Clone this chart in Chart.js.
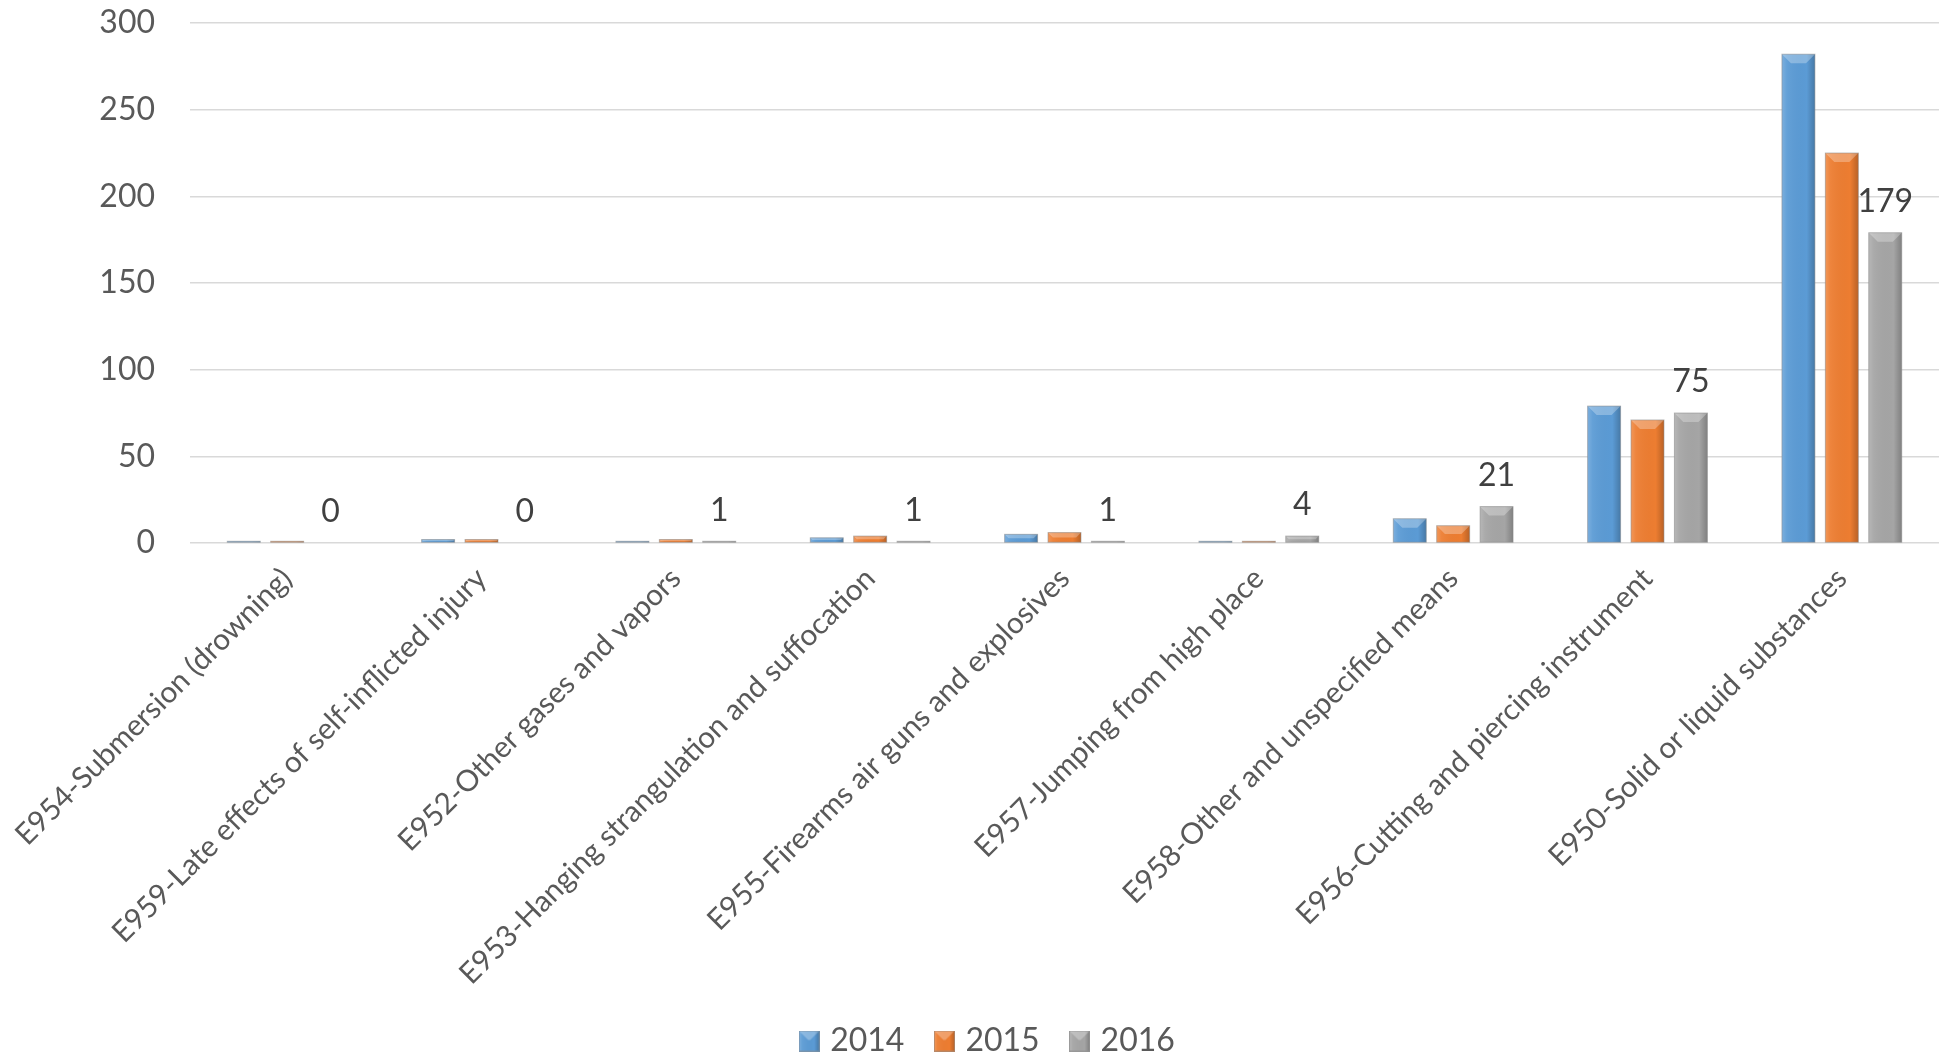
<!DOCTYPE html>
<html lang="en">
<head>
    <meta charset="UTF-8">
    <title>Self-inflicted injury by cause</title>
    <style>
        html, body { margin: 0; padding: 0; background: #ffffff; overflow: hidden; }
        #wrap { width: 1949px; height: 1056px; overflow: hidden; }
    </style>
</head>
<body>
    <div id="wrap">
        <!-- a bit taller than the window so the legend sits as low as in the original -->
        <canvas id="myChart" width="1949" height="1067"></canvas>
    </div>

    <script src="https://cdn.jsdelivr.net/npm/chart.js"></script>
    <script>
        // data
        const categories = [
            'E954-Submersion (drowning)',
            'E959-Late effects of self-inflicted injury',
            'E952-Other gases and vapors',
            'E953-Hanging strangulation and suffocation',
            'E955-Firearms air guns and explosives',
            'E957-Jumping from high place',
            'E958-Other and unspecified means',
            'E956-Cutting and piercing instrument',
            'E950-Solid or liquid substances'
        ];
        const years = ['2014', '2015', '2016'];
        const values2014 = [1, 2, 1, 3, 5, 1, 14, 79, 282];
        const values2015 = [1, 2, 2, 4, 6, 1, 10, 71, 225];
        const values2016 = [0, 0, 1, 1, 1, 4, 21, 75, 179];
        const yTicks = [0, 50, 100, 150, 200, 250, 300];

        const colors = ['#5B9BD5', '#ED7D31', '#A5A5A5'];
        const FONT = 'Lato';

        // shading that gives the bars their bevelled excel look
        function shadeBar(ctx, l, top, w, h) {
            const r = l + w;
            const g = ctx.createLinearGradient(l, 0, r, 0);
            g.addColorStop(0, 'rgba(255,255,255,0.20)');
            g.addColorStop(0.15, 'rgba(255,255,255,0.06)');
            g.addColorStop(0.75, 'rgba(0,0,0,0)');
            g.addColorStop(1, 'rgba(0,0,0,0.22)');
            ctx.fillStyle = g;
            ctx.fillRect(l, top, w, h);
            const b = Math.min(9, h / 2);
            ctx.fillStyle = 'rgba(255,255,255,0.28)';
            ctx.beginPath();
            ctx.moveTo(l, top);
            ctx.lineTo(r, top);
            ctx.lineTo(r - b, top + b);
            ctx.lineTo(l + b, top + b);
            ctx.closePath();
            ctx.fill();
            ctx.strokeStyle = 'rgba(140,140,140,0.55)';
            ctx.lineWidth = 1;
            ctx.strokeRect(l, top, w, h);
        }

        // small bevelled squares for the legend
        function legendBox(color) {
            const c = document.createElement('canvas');
            c.width = 21;
            c.height = 21;
            const cx = c.getContext('2d');
            cx.fillStyle = color;
            cx.fillRect(0, 0, 21, 21);
            shadeBar(cx, 0.5, 0.5, 20, 20);
            return c;
        }
        const legendBoxes = colors.map(legendBox);

        const bevelPlugin = {
            id: 'bevel',
            afterDatasetsDraw(chart) {
                const ctx = chart.ctx;
                ctx.save();
                chart.data.datasets.forEach((ds, di) => {
                    chart.getDatasetMeta(di).data.forEach(bar => {
                        const p = bar.getProps(['x', 'y', 'base', 'width'], true);
                        const h = p.base - p.y;
                        if (h <= 0.2) return;
                        shadeBar(ctx, p.x - p.width / 2, p.y, p.width, h);
                    });
                });
                ctx.restore();
            }
        };

        // value labels above the 2016 bars only
        const labelPlugin = {
            id: 'valueLabels',
            afterDatasetsDraw(chart) {
                const ctx = chart.ctx;
                const meta = chart.getDatasetMeta(2);
                ctx.save();
                ctx.font = '32px ' + FONT;
                ctx.fillStyle = '#404040';
                ctx.textAlign = 'center';
                ctx.textBaseline = 'middle';
                meta.data.forEach((bar, i) => {
                    ctx.fillText(String(values2016[i]), bar.x, bar.y - 31);
                });
                ctx.restore();
            }
        };

        const config = {
            type: 'bar',
            data: {
                labels: categories,
                datasets: [
                    { label: years[0], data: values2014, backgroundColor: colors[0] },
                    { label: years[1], data: values2015, backgroundColor: colors[1] },
                    { label: years[2], data: values2016, backgroundColor: colors[2] }
                ]
            },
            options: {
                responsive: false,
                animation: false,
                categoryPercentage: 0.67,
                barPercentage: 0.76,
                layout: { padding: { top: 23, left: 40, right: 10, bottom: 0 } },
                scales: {
                    x: {
                        grid: { display: false },
                        border: { display: false },
                        ticks: {
                            autoSkip: false,
                            minRotation: 45,
                            maxRotation: 45,
                            padding: 10,
                            color: '#595959',
                            font: { family: FONT, size: 29.6 }
                        },
                        afterFit(scale) { scale.height = 447; }
                    },
                    y: {
                        min: 0,
                        max: 300,
                        grid: { color: '#D9D9D9', lineWidth: 1.5, drawTicks: false },
                        border: { display: false },
                        afterBuildTicks(scale) { scale.ticks = yTicks.map(v => ({ value: v })); },
                        ticks: {
                            padding: 35,
                            color: '#595959',
                            font: { family: FONT, size: 32 }
                        },
                        afterFit(scale) {
                            // tick padding would otherwise push the plot down
                            scale.width = 150;
                            scale.paddingTop = 0;
                            scale.paddingBottom = 0;
                        }
                    }
                },
                plugins: {
                    legend: {
                        position: 'bottom',
                        labels: {
                            usePointStyle: true,
                            pointStyleWidth: 10,
                            padding: 35,
                            color: '#595959',
                            font: { family: FONT, size: 32 },
                            generateLabels(chart) {
                                const items = Chart.defaults.plugins.legend.labels.generateLabels(chart);
                                items.forEach((it, i) => { it.pointStyle = legendBoxes[i]; });
                                return items;
                            }
                        }
                    },
                    tooltip: { enabled: false }
                }
            },
            plugins: [bevelPlugin, labelPlugin]
        };

        const myChart = new Chart(document.getElementById('myChart'), config);
    </script>
</body>
</html>
